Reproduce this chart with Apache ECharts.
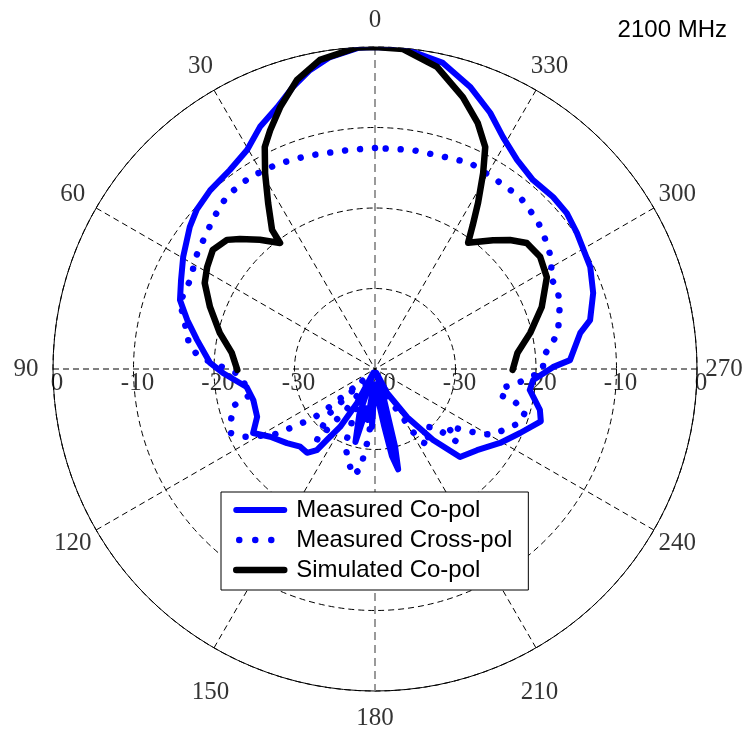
<!DOCTYPE html>
<html><head><meta charset="utf-8">
<script src="https://cdn.jsdelivr.net/npm/echarts@6/dist/echarts.min.js"></script>
<style>html,body{margin:0;padding:0;background:#fff}#c{width:745px;height:730px}</style>
</head><body><div id="c"></div>
<script>
// ---- ticks ----
const angleTicks = [0,30,60,90,120,150,180,210,240,270,300,330];
const angleTickLabels = ['0','30','60','90','120','150','180','210','240','270','300','330'];
const radiusTickValues = [0,-10,-20,-30,-40,-30,-20,-10,0];
const radiusTickAngles = [90,90,90,90,90,270,270,270,270];

// ---- Measured Co-pol (angle deg, level dB) ----
const coPolAngles = [0,3,8.2,12.3,16.2,20.5,25.4,30.3,36.1,42.7,48.2,52.5,59.7,65.4,70.5,75.4,80.7,87.9,91.5,98.0,104.3,112.1,117.7,122.9,130.1,136.1,141.0,144.4,145.9,148.9,152.1,156,161,165,168,172,175,177,179,186,189,191,193,194.5,196.5,200,206.6,213.7,219.3,224.0,231.5,239.4,246.2,252.5,256.1,262.3,266,270.6,272.6,280.0,282.8,289.2,295.4,304.0,309.1,314.0,320.1,325.8,331.1,335.8,341.4,347.5,355,360];
const coPolDb = [0,-0.05,-0.85,-2.0,-3.5,-5.3,-6.7,-8.5,-9.4,-9.8,-10.3,-11.0,-12.4,-13.5,-14.3,-15.9,-17.6,-19.5,-21.1,-23.9,-24.4,-24.2,-22.9,-24.5,-25.7,-26.6,-26.6,-27.6,-29.4,-31.6,-35.2,-39.5,-34,-30.6,-35,-33.6,-38,-32.8,-38,-38,-33,-29,-27.2,-30,-36,-39.5,-36.7,-32.8,-28.6,-24.8,-23.8,-21.95,-20.3,-18.4,-18.9,-20.6,-20.3,-17.9,-15.75,-14.1,-12.6,-11.3,-10.4,-9.75,-9.3,-9.25,-9.4,-8.6,-7.1,-5.1,-3.0,-1.05,0,0];

// ---- Measured Cross-pol ----
const crossPolAngles = [0,6.5,17.7,25.6,33.1,40.5,47.6,51.0,55.5,59.4,63.1,71.0,74.8,78.9,82.6,86.1,90,92.6,101.8,104.6,109.1,114.0,117.4,122.9,124.6,126.5,128.7,129.7,131,133,134.4,138,140.8,145,150,155,158.5,163.5,168.3,172.2,172.5,174.4,177,182,195,204,208.2,209.7,211.1,212.8,215.9,221,226,228.3,232,235.3,238.1,240.8,245.9,249.6,254,257.3,258.2,261.5,264.4,269.3,274.1,277.8,281.4,285.8,289.9,294,297.7,301.2,305.2,309,312.6,319.9,327.7,335.2,342.5,350.4,360];
const crossPolDb = [-12.55,-12.6,-12.2,-11.8,-11.55,-11.7,-12.6,-13.15,-13.5,-13.9,-14.5,-14.4,-15.3,-16.2,-16.7,-18.1,-21.6,-23.3,-24.1,-21.8,-21.1,-20.4,-21.7,-24.9,-26.9,-28.7,-30.5,-32.4,-35.6,-38,-32.2,-30,-28.6,-34,-38,-34,-29.9,-28.2,-26.5,-27.6,-29.5,-31.1,-35,-39,-39,-36.5,-34.2,-33.0,-30.9,-29.2,-28.3,-30.5,-29.5,-26.4,-28.5,-26.7,-24.9,-23.2,-22.0,-20.8,-20.6,-22.4,-24.1,-24.05,-22.15,-19.1,-19.1,-17.9,-16.8,-16.25,-15.55,-15.3,-15.4,-14.3,-13.7,-13.15,-12.65,-12.05,-12.1,-11.8,-12.3,-12.4,-12.55];

// ---- Simulated Co-pol ----
const simAngles = [269.6,276.4,283.1,290.4,298.1,304.2,309.7,313.7,317.5,323.6,325.8,328.2,331.1,333.6,337.3,342.1,348.4,355.0,0,3.2,10.1,15.1,19.9,23.7,26.4,29.3,32.8,36.5,37.0,41.7,46.1,48.9,53.7,58.7,63.2,69.4,76.9,83.6,90.4];
const simDb = [-22.9,-22.2,-20.2,-17.9,-15.8,-15.2,-15.5,-16.8,-18.3,-20.5,-18.4,-15.7,-12.2,-9.2,-6.9,-4.5,-1.7,-0.1,0,0,-1.0,-2.8,-5.4,-7.6,-9.2,-12.1,-15.5,-18.5,-20.4,-18.5,-16.7,-15.6,-15.0,-15.6,-16.3,-18.1,-20.2,-22.1,-22.9];

const seriesNames = ['Measured Co-pol','Measured Cross-pol','Simulated Co-pol'];
const titleText = '2100 MHz';

function pairs(db, ang){ return db.map((v,i)=>[v, ang[i]]); }

// layout of angle labels (distance outside outer ring, px) with small per-label nudges
const LABEL_GAP = 27;
const labelNudge = {150:[10,21], 210:[-10,21]};
function labelOffset(a){
  const t = a*Math.PI/180, n = labelNudge[a] || [0,0];
  return [-LABEL_GAP*Math.sin(t) + n[0], -LABEL_GAP*Math.cos(t) + n[1]];
}

const chart = echarts.init(document.getElementById('c'), null, {renderer:'canvas'});
const serif = 'Liberation Serif';
const sans = 'Liberation Sans';
chart.setOption({
  animation:false,
  backgroundColor:'#fff',
  title:{text:titleText, right:18, top:18, padding:0,
    textStyle:{fontFamily:sans, fontSize:24, fontWeight:'normal', color:'#000'}},
  polar:{center:[375,369], radius:322},
  angleAxis:{type:'value', min:0, max:360, interval:30, startAngle:90, clockwise:false,
    axisLine:{show:true, lineStyle:{color:'#000', width:1}},
    axisTick:{show:false},
    axisLabel:{show:false},
    splitLine:{show:true, lineStyle:{color:['rgba(0,0,0,0)','#000','#000','#000','#000','#000'], width:1, type:[6,4]}}
  },
  radiusAxis:{type:'value', min:-40, max:0, interval:10,
    axisLine:{show:false}, axisTick:{show:false}, axisLabel:{show:false},
    splitLine:{show:true, lineStyle:{color:'#000', width:1, type:[6,4]}}
  },
  legend:{orient:'vertical', left:221, top:492, selectedMode:false,
    itemWidth:48, itemHeight:14, itemGap:6, padding:[6,16,8,12],
    borderColor:'#000', borderWidth:1, borderRadius:0, backgroundColor:'#fff',
    textStyle:{fontFamily:sans, fontSize:24, color:'#000', padding:[0,0,0,7]},
    itemStyle:{opacity:0},
    lineStyle:{width:'inherit'},
    data:[
      {name:seriesNames[0]},
      {name:seriesNames[1], lineStyle:{type:[0.01,16], dashOffset:-3}},
      {name:seriesNames[2]}
    ]
  },
  series:[
    // vertical 0-180 grid spoke (grey, heavier dash)
    {type:'line', coordinateSystem:'polar', silent:true, z:1, symbol:'none',
      data:[[0,angleTicks[0]],[0,angleTicks[6]]],
      lineStyle:{color:'#808080', width:1.6, type:[8,5]}},
    {type:'scatter', coordinateSystem:'polar', silent:true, z:1,
      data:angleTicks.map(a=>({value:[0,a], label:{offset:labelOffset(a)}})),
      symbolSize:1, itemStyle:{color:'rgba(0,0,0,0)'},
      label:{show:true, position:'inside', align:'center', verticalAlign:'middle',
        formatter:(p)=>angleTickLabels[p.dataIndex], fontFamily:serif, fontSize:25, color:'#000'}},
    {type:'scatter', coordinateSystem:'polar', silent:true, z:1,
      data:pairs(radiusTickValues, radiusTickAngles), symbolSize:1,
      itemStyle:{color:'rgba(0,0,0,0)'},
      label:{show:true, position:'bottom', distance:1, offset:[4,0],
        formatter:(p)=>String(p.value[0]), fontFamily:serif, fontSize:25, color:'#000'}},
    {name:seriesNames[0], type:'line', coordinateSystem:'polar', z:3, symbol:'none',
      data:pairs(coPolDb, coPolAngles),
      itemStyle:{color:'#0000ff'},
      lineStyle:{color:'#0000ff', width:6, join:'round', cap:'round'}},
    {name:seriesNames[1], type:'line', coordinateSystem:'polar', z:4, symbol:'none',
      data:pairs(crossPolDb, crossPolAngles),
      itemStyle:{color:'#0000ff'},
      lineStyle:{color:'#0000ff', width:6.5, type:[0.01,15], cap:'round'}},
    {name:seriesNames[2], type:'line', coordinateSystem:'polar', z:5, symbol:'none',
      data:pairs(simDb, simAngles),
      itemStyle:{color:'#000'},
      lineStyle:{color:'#000', width:6.5, join:'round', cap:'round'}}
  ]
});
</script></body></html>
